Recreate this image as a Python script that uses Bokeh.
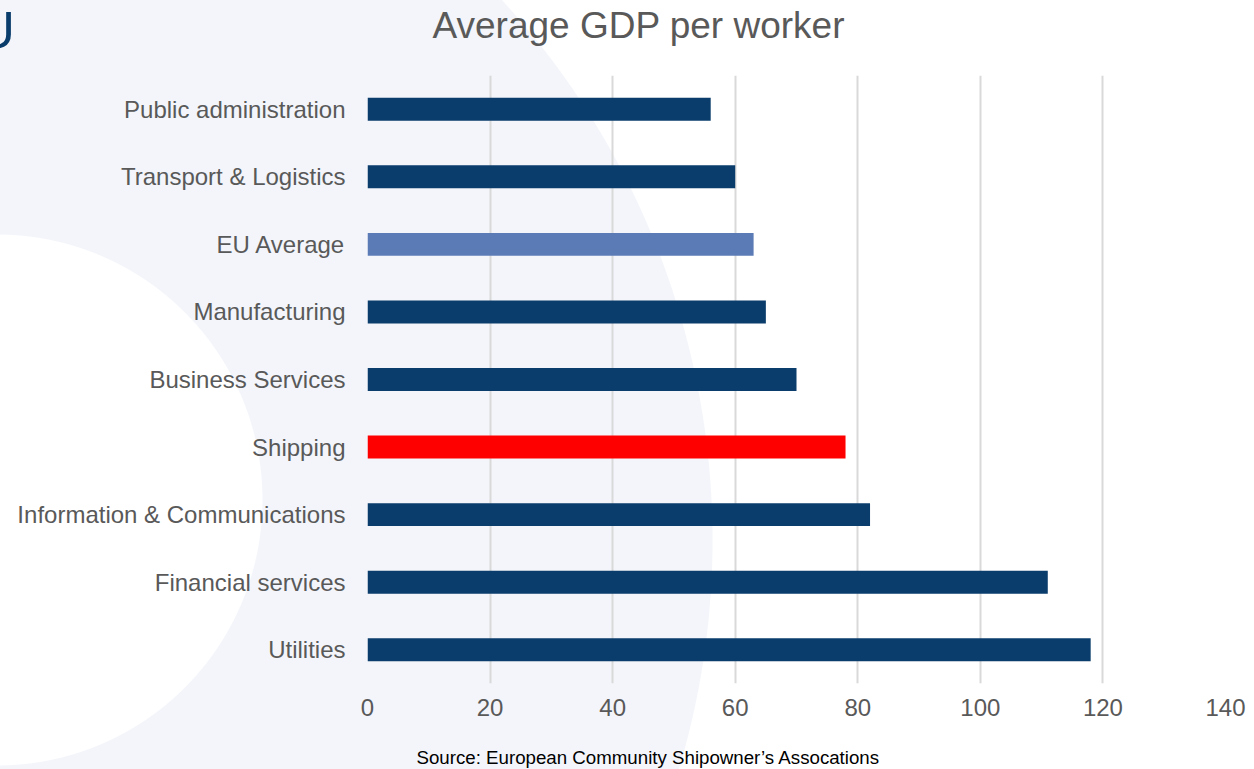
from bokeh.plotting import figure
from bokeh.models import Title, Div, FixedTicker, FactorRange, Range1d, ColumnDataSource
from bokeh.layouts import column
from bokeh.embed import file_html
from bokeh.resources import INLINE

# ---- data ----
categories = ["Public administration", "Transport & Logistics", "EU Average",
              "Manufacturing", "Business Services", "Shipping",
              "Information & Communications", "Financial services", "Utilities"]
values = [56, 60, 63, 65, 70, 78, 82, 111, 118]
bar_colors = ["#0A3D6B", "#0A3D6B", "#5B7BB6", "#0A3D6B", "#0A3D6B",
              "#FF0000", "#0A3D6B", "#0A3D6B", "#0A3D6B"]
x_ticks = [0, 20, 40, 60, 80, 100, 120, 140]
title_text = "Average GDP per worker"
source_text = "Source: European Community Shipowner\u2019s Assocations"
logo_text = "U"

# ---- layout (pixels) ----
W, H = 1254, 769
FL, FR, FT, FB = 367, 1225, 75, 683
XMAX = 140

FONT = "Liberation Sans"
GRAY = "#595959"
NAVY = "#0A3D6B"
LAVENDER = "#F3F5FA"

bg = ("radial-gradient(circle 266px at -3px 500px, #ffffff 265px, rgba(255,255,255,0) 266px), "
      "radial-gradient(circle 798px at -85px 540px, " + LAVENDER + " 797px, #ffffff 798px)")

p = figure(width=W, height=H, output_backend="svg", toolbar_location=None,
           x_range=Range1d(0, XMAX),
           y_range=FactorRange(factors=list(reversed(categories))),
           min_border_left=FL, min_border_right=W - FR,
           min_border_top=FT, min_border_bottom=H - FB,
           styles={"background": bg})
p.outline_line_color = None
p.background_fill_color = None
p.border_fill_color = None

src = ColumnDataSource(dict(cat=categories, val=values, color=bar_colors))
p.hbar(y="cat", left=0, right="val", height=0.34, fill_color="color",
       line_color=None, source=src)

# axes
p.xaxis.ticker = FixedTicker(ticks=x_ticks)
p.xaxis.axis_line_color = None
p.xaxis.major_tick_line_color = None
p.xaxis.minor_tick_line_color = None
p.xaxis.major_tick_out = 0
p.xaxis.major_label_standoff = 15
p.xaxis.major_label_text_font = FONT
p.xaxis.major_label_text_font_size = "24px"
p.xaxis.major_label_text_color = GRAY

p.yaxis.axis_line_color = None
p.yaxis.major_tick_line_color = None
p.yaxis.minor_tick_line_color = None
p.yaxis.major_tick_out = 0
p.yaxis.major_label_standoff = 22
p.yaxis.major_label_text_font = FONT
p.yaxis.major_label_text_font_size = "24px"
p.yaxis.major_label_text_color = GRAY

p.xgrid.grid_line_color = "#D9D9D9"
p.xgrid.grid_line_width = 2
p.ygrid.grid_line_color = None

# above: blank spacer next to the frame, then the title
p.add_layout(Title(text=" ", text_font=FONT, text_font_size="10px", standoff=17,
                   text_color="white"), "above")
p.add_layout(Title(text=title_text, align="left", offset=65, standoff=0,
                   vertical_align="bottom", text_font=FONT,
                   text_font_size="37px", text_font_style="normal",
                   text_color=GRAY), "above")
# below: axis, blank spacer, source
p.add_layout(Title(text=" ", text_font=FONT, text_font_size="10px", standoff=13,
                   text_color="white"), "below")
p.add_layout(Title(text=source_text, align="left", offset=49, standoff=0,
                   vertical_align="bottom", text_font=FONT,
                   text_font_size="18.7px", text_font_style="normal",
                   text_color="black"), "below")

logo = Div(text=logo_text, width=40, height=60,
           styles={"position": "absolute", "left": "-22px", "top": "5px",
                   "font-family": FONT, "font-size": "51px", "line-height": "1",
                   "color": NAVY, "margin": "0", "padding": "0"})

root = column(p, logo)
open("out.html", "w").write(file_html(root, INLINE))
